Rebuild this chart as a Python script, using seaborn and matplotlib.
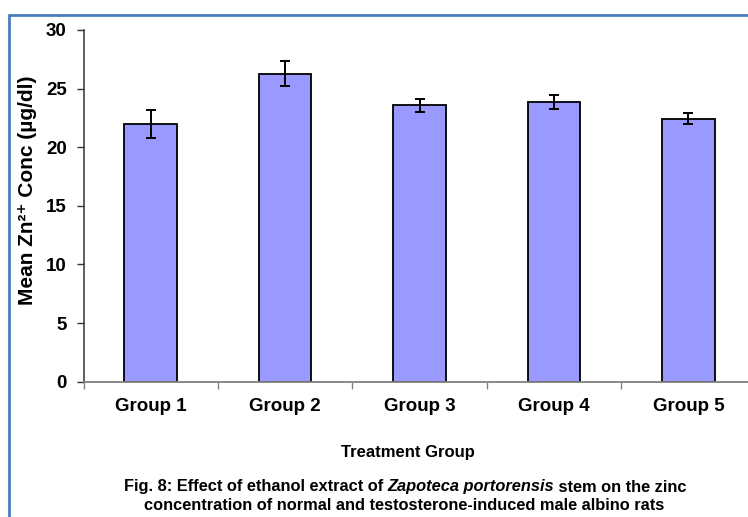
import matplotlib
matplotlib.use("Agg")
import matplotlib.pyplot as plt
import seaborn as sns
import pandas as pd

# Mean serum zinc per treatment group with standard error
groups = ["Group 1", "Group 2", "Group 3", "Group 4", "Group 5"]
zinc_mean = [21.95, 26.27, 23.57, 23.86, 22.43]
zinc_se = [1.2, 1.05, 0.55, 0.6, 0.48]
y_ticks = [0, 5, 10, 15, 20, 25, 30]

df = pd.DataFrame({"group": groups, "zinc": zinc_mean})

sns.set_theme(style="white")
plt.rcParams["font.family"] = ["Liberation Sans", "DejaVu Sans"]
plt.rcParams["text.color"] = "black"
plt.rcParams["xtick.labelcolor"] = "black"
plt.rcParams["ytick.labelcolor"] = "black"
plt.rcParams["axes.labelcolor"] = "black"

W, H = 748, 517
fig = plt.figure(figsize=(W / 100, H / 100), dpi=100)
fig.patch.set_facecolor("white")

# Plot area (extends slightly past the right edge of the figure)
x0, x1 = 83.5, 755.6
y_top, y_bot = 30.0, 381.6
ax = fig.add_axes([x0 / W, 1 - y_bot / H, (x1 - x0) / W, (y_bot - y_top) / H])
ax.set_facecolor("white")

sns.barplot(data=df, x="group", y="zinc", order=groups, color="#9999FF",
            saturation=1, width=0.39, edgecolor="black", linewidth=1.3,
            errorbar=None, ax=ax)
ax.errorbar(range(len(groups)), zinc_mean, yerr=zinc_se, fmt="none",
            ecolor="black", elinewidth=1.4, capsize=3.5, capthick=1.4)

ax.set_xlim(-0.5, len(groups) - 0.5)
ax.set_ylim(0, 30)
ax.set_yticks(y_ticks)
ax.set_yticklabels([str(t) for t in y_ticks], fontsize=13.5, fontweight="bold")
ax.set_xticks(range(len(groups)))
ax.set_xticklabels(groups, fontsize=13.5, fontweight="bold")
ax.set_xticks([i - 0.5 for i in range(len(groups) + 1)], minor=True)
ax.tick_params(axis="x", which="major", length=0, pad=12)
ax.tick_params(axis="x", which="minor", length=5, width=1, color="#808080",
               direction="out", bottom=True)
ax.tick_params(axis="y", length=5, width=1, color="#333333", direction="out",
               left=True, pad=7)

for side in ["top", "right"]:
    ax.spines[side].set_visible(False)
ax.spines["left"].set_color("#333333")
ax.spines["left"].set_linewidth(1.1)
ax.spines["bottom"].set_color("#808080")
ax.spines["bottom"].set_linewidth(1.3)

ax.set_xlabel("")
ax.set_ylabel("")
fig.text(28 / W, 1 - 190 / H, "Mean Zn²⁺ Conc (µg/dl)", rotation=90,
         ha="center", va="center", fontsize=15, fontweight="bold")

fig.text(408 / W, 1 - 452 / H, "Treatment Group", ha="center", va="center",
         fontsize=12, fontweight="bold")

# Caption with italic species name
fig.canvas.draw()
renderer = fig.canvas.get_renderer()
cap_size = 11.8
pieces = [("Fig. 8: Effect of ethanol extract of ", "normal"),
          ("Zapoteca portorensis", "italic"),
          (" stem on the zinc", "normal")]
texts = []
for s, style in pieces:
    t = fig.text(0, 1 - 487 / H, s, ha="left", va="center", fontsize=cap_size,
                 fontweight="bold", fontstyle=style)
    texts.append(t)
widths = [t.get_window_extent(renderer).width for t in texts]
total = sum(widths)
start = 405 - total / 2
for t, w in zip(texts, widths):
    t.set_x(start / W)
    start += w
fig.text(404 / W, 1 - 505 / H,
         "concentration of normal and testosterone-induced male albino rats",
         ha="center", va="center", fontsize=cap_size, fontweight="bold")

# Chart border
fig.add_artist(plt.Line2D([8.5 / W, 8.5 / W], [0, 1 - 14.5 / H],
                          transform=fig.transFigure, color="#4A7EBB", lw=2))
fig.add_artist(plt.Line2D([8.5 / W, 1.0], [1 - 14.5 / H, 1 - 14.5 / H],
                          transform=fig.transFigure, color="#4A7EBB", lw=2))

fig.savefig("out.png", dpi=100, facecolor="white")
